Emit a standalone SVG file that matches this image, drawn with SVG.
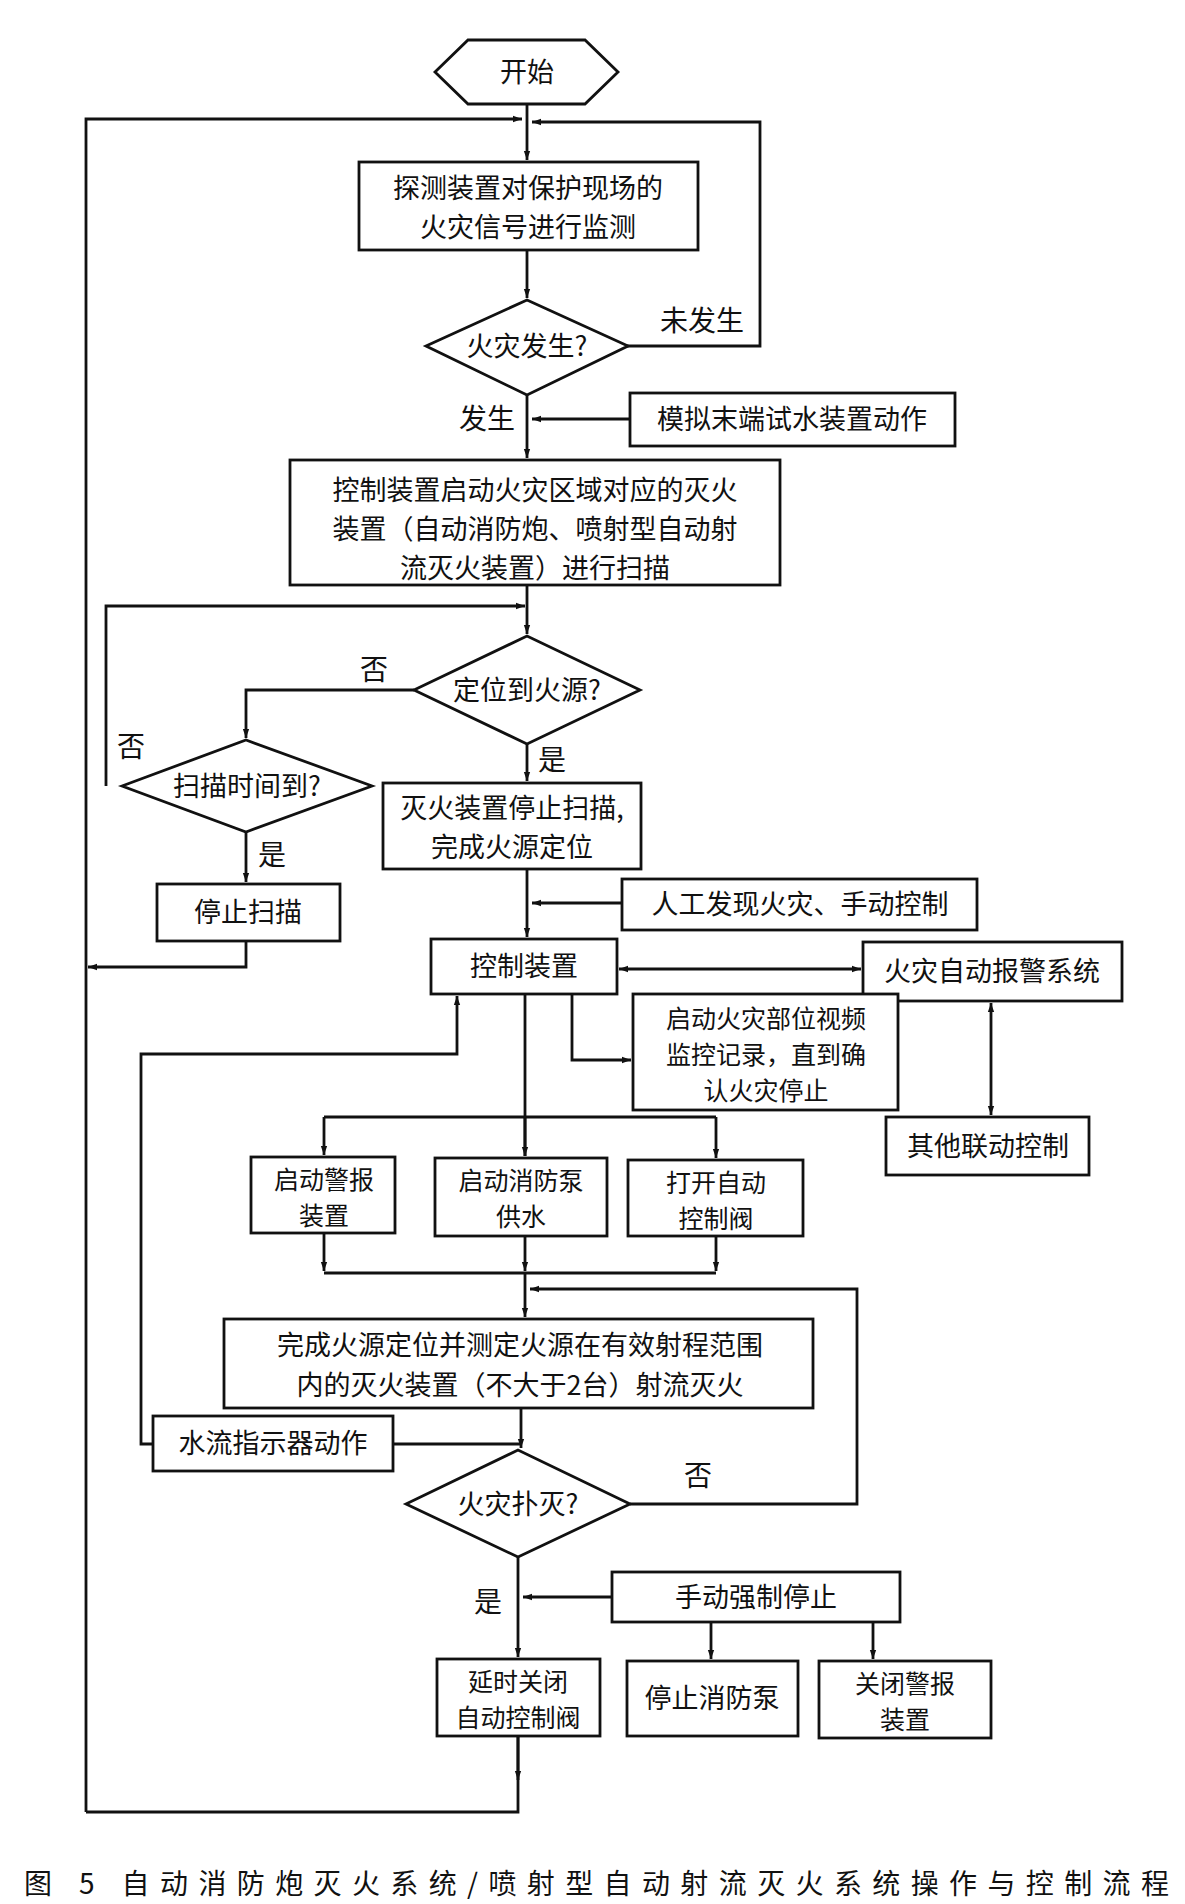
<svg xmlns="http://www.w3.org/2000/svg" width="1185" height="1904" viewBox="0 0 1185 1904">
<style>
.n{fill:#fff;stroke:#111;stroke-width:2.8}
.t{font-family:"Noto Sans CJK SC","Liberation Sans",sans-serif;font-size:27px;fill:#111;text-anchor:middle}
.s{font-size:25px}
.l{font-family:"Noto Sans CJK SC","Liberation Sans",sans-serif;font-size:28px;fill:#111}
.c{fill:none;stroke:#111;stroke-width:2.8}
</style>
<defs><marker id="a" viewBox="0 0 10 10" refX="10" refY="5" markerWidth="9" markerHeight="9" markerUnits="userSpaceOnUse" orient="auto-start-reverse"><path d="M0,1.5L10,5L0,8.5z" fill="#111"/></marker></defs>
<rect width="1185" height="1904" fill="#fff"/>
<g id="connectors">
<path class="c" d="M527,104V160" marker-end="url(#a)"/>
<path class="c" d="M86,1812V119H522" marker-end="url(#a)"/>
<path class="c" d="M627,346H760V122H532" marker-end="url(#a)"/>
<path class="c" d="M527,250V298" marker-end="url(#a)"/>
<path class="c" d="M527,395V458" marker-end="url(#a)"/>
<path class="c" d="M630,419H532" marker-end="url(#a)"/>
<path class="c" d="M527,585V634" marker-end="url(#a)"/>
<path class="c" d="M106,786V606H525" marker-end="url(#a)"/>
<path class="c" d="M414,690H246V738" marker-end="url(#a)"/>
<path class="c" d="M246,832V882" marker-end="url(#a)"/>
<path class="c" d="M246,941V967H88" marker-end="url(#a)"/>
<path class="c" d="M527,744V781" marker-end="url(#a)"/>
<path class="c" d="M527,869V937" marker-end="url(#a)"/>
<path class="c" d="M622,903H532" marker-end="url(#a)"/>
<path class="c" d="M619,969H861" marker-start="url(#a)" marker-end="url(#a)"/>
<path class="c" d="M991,1003V1115" marker-start="url(#a)" marker-end="url(#a)"/>
<path class="c" d="M572,994V1060H631" marker-end="url(#a)"/>
<path class="c" d="M153,1444H141V1054H457V996" marker-end="url(#a)"/>
<path class="c" d="M525,994V1156"/>
<path class="c" d="M324,1117H716"/>
<path class="c" d="M324,1117V1155" marker-end="url(#a)"/>
<path class="c" d="M716,1117V1158" marker-end="url(#a)"/>
<path class="c" d="M525,1117V1156" marker-end="url(#a)"/>
<path class="c" d="M324,1233V1271" marker-end="url(#a)"/>
<path class="c" d="M525,1236V1271" marker-end="url(#a)"/>
<path class="c" d="M716,1236V1271" marker-end="url(#a)"/>
<path class="c" d="M324,1273H716"/>
<path class="c" d="M525,1273V1317" marker-end="url(#a)"/>
<path class="c" d="M630,1504H857V1289H530" marker-end="url(#a)"/>
<path class="c" d="M521,1408V1448" marker-end="url(#a)"/>
<path class="c" d="M393,1444H521"/>
<path class="c" d="M518,1557V1657" marker-end="url(#a)"/>
<path class="c" d="M612,1597H523" marker-end="url(#a)"/>
<path class="c" d="M711,1622V1659" marker-end="url(#a)"/>
<path class="c" d="M873,1622V1659" marker-end="url(#a)"/>
<path class="c" d="M518,1736V1812H86"/>
<path class="c" d="M518,1736V1780" marker-end="url(#a)"/>
</g>
<g id="start"><path class="n" d="M435,72L468,40H585L618,72L585,104H468Z"/><text class="t" x="527" y="82">开始</text></g>
<g id="monitor"><rect class="n" x="359" y="162" width="339" height="88"/><text class="t" x="528" y="198">探测装置对保护现场的</text><text class="t" x="528" y="237">火灾信号进行监测</text></g>
<g id="fire"><path class="n" d="M426,346L527,300L628,346L527,395Z"/><text class="t" x="527" y="356">火灾发生?</text></g>
<text class="l" x="660" y="331">未发生</text>
<text class="l" x="459" y="429">发生</text>
<g id="sim"><rect class="n" x="630" y="393" width="325" height="53"/><text class="t" x="792" y="429">模拟末端试水装置动作</text></g>
<g id="scan"><rect class="n" x="290" y="460" width="490" height="125"/><text class="t" x="535" y="500">控制装置启动火灾区域对应的灭火</text><text class="t" x="535" y="539">装置（自动消防炮、喷射型自动射</text><text class="t" x="535" y="578">流灭火装置）进行扫描</text></g>
<g id="locate"><path class="n" d="M414,690L527,636L640,690L527,744Z"/><text class="t" x="527" y="700">定位到火源?</text></g>
<text class="l" x="360" y="680">否</text>
<text class="l" x="117" y="757">否</text>
<g id="scantime"><path class="n" d="M122,786L246,740L372,786L246,832Z"/><text class="t" x="247" y="796">扫描时间到?</text></g>
<text class="l" x="258" y="865">是</text>
<g id="stopscan"><rect class="n" x="157" y="884" width="183" height="57"/><text class="t" x="248" y="922">停止扫描</text></g>
<text class="l" x="538" y="770">是</text>
<g id="located"><rect class="n" x="383" y="783" width="258" height="86"/><text class="t" x="512" y="818">灭火装置停止扫描,</text><text class="t" x="512" y="857">完成火源定位</text></g>
<g id="manual"><rect class="n" x="622" y="879" width="355" height="51"/><text class="t" x="800" y="914">人工发现火灾、手动控制</text></g>
<g id="ctrl"><rect class="n" x="431" y="939" width="186" height="55"/><text class="t" x="524" y="976">控制装置</text></g>
<g id="alarm"><rect class="n" x="863" y="942" width="259" height="59"/><text class="t" x="992" y="981">火灾自动报警系统</text></g>
<g id="video"><rect class="n" x="633" y="994" width="265" height="116"/><text class="t s" x="766" y="1028">启动火灾部位视频</text><text class="t s" x="766" y="1064">监控记录，直到确</text><text class="t s" x="766" y="1100">认火灾停止</text></g>
<g id="other"><rect class="n" x="886" y="1117" width="203" height="58"/><text class="t" x="988" y="1156">其他联动控制</text></g>
<g id="b1"><rect class="n" x="251" y="1157" width="144" height="76"/><text class="t s" x="324" y="1189">启动警报</text><text class="t s" x="324" y="1225">装置</text></g>
<g id="b2"><rect class="n" x="435" y="1158" width="172" height="78"/><text class="t s" x="521" y="1190">启动消防泵</text><text class="t s" x="521" y="1226">供水</text></g>
<g id="b3"><rect class="n" x="628" y="1160" width="175" height="76"/><text class="t s" x="716" y="1192">打开自动</text><text class="t s" x="716" y="1228">控制阀</text></g>
<g id="spray"><rect class="n" x="224" y="1319" width="589" height="89"/><text class="t" x="520" y="1355">完成火源定位并测定火源在有效射程范围</text><text class="t" x="520" y="1395">内的灭火装置（不大于2台）射流灭火</text></g>
<g id="flow"><rect class="n" x="153" y="1416" width="240" height="55"/><text class="t" x="273" y="1453">水流指示器动作</text></g>
<g id="out"><path class="n" d="M406,1504L518,1450L630,1504L518,1557Z"/><text class="t" x="518" y="1514">火灾扑灭?</text></g>
<text class="l" x="684" y="1486">否</text>
<text class="l" x="474" y="1612">是</text>
<g id="force"><rect class="n" x="612" y="1572" width="288" height="50"/><text class="t" x="756" y="1607">手动强制停止</text></g>
<g id="d1"><rect class="n" x="437" y="1659" width="163" height="77"/><text class="t s" x="518" y="1691">延时关闭</text><text class="t s" x="518" y="1727">自动控制阀</text></g>
<g id="d2"><rect class="n" x="627" y="1661" width="171" height="75"/><text class="t" x="712" y="1708">停止消防泵</text></g>
<g id="d3"><rect class="n" x="819" y="1661" width="172" height="77"/><text class="t s" x="905" y="1693">关闭警报</text><text class="t s" x="905" y="1729">装置</text></g>
<text class="l" x="24" y="1894" font-size="30" textLength="1145" lengthAdjust="spacing">图 5  自动消防炮灭火系统/喷射型自动射流灭火系统操作与控制流程</text>
</svg>
